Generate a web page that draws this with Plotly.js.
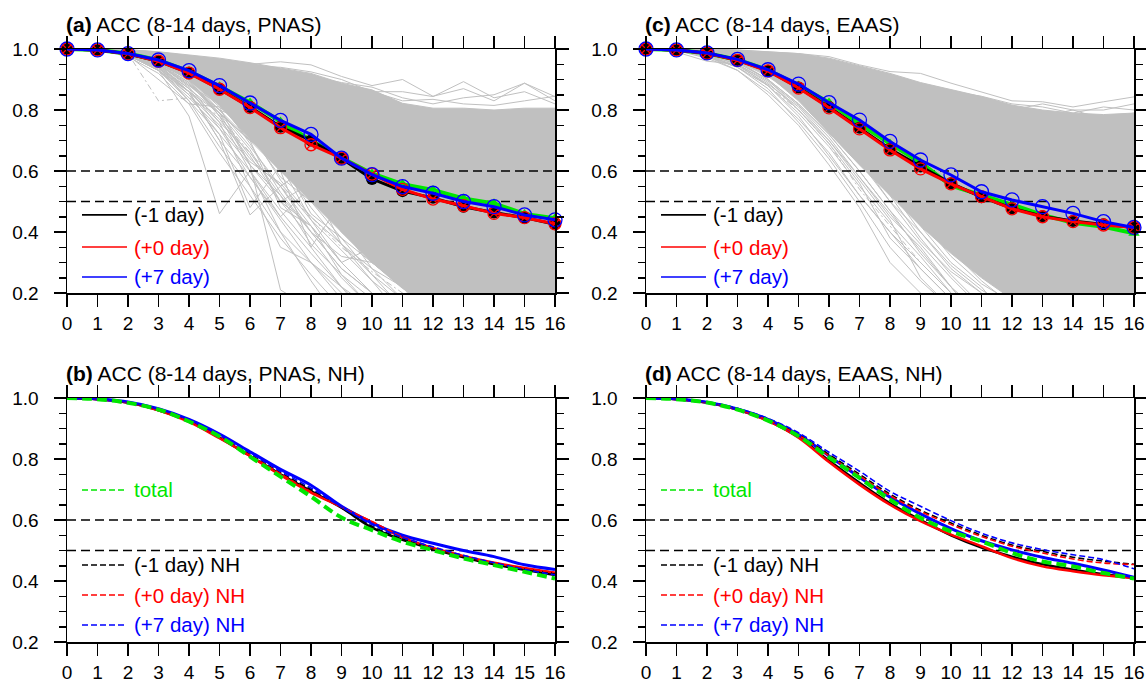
<!DOCTYPE html>
<html><head><meta charset="utf-8">
<script src="https://cdn.plot.ly/plotly-3.0.1.min.js"></script>
<style>html,body{margin:0;padding:0;background:#fff}#chart{width:1146px;height:685px}</style>
</head><body><div id="chart"></div>
<script>
// ---------------- data ----------------
const days = [0,1,2,3,4,5,6,7,8,9,10,11,12,13,14,15,16];
const thresholds = [0.6, 0.5];

// (a) PNAS, 8-14 days
const pnasM1    = [1,0.997,0.984,0.960,0.922,0.869,0.810,0.745,0.700,0.641,0.574,0.534,0.512,0.483,0.464,0.447,0.425];
const pnasP0    = [1,0.997,0.984,0.960,0.921,0.868,0.808,0.742,0.686,0.642,0.590,0.540,0.508,0.486,0.461,0.447,0.427];
const pnasP7    = [1,0.997,0.985,0.964,0.929,0.880,0.823,0.766,0.720,0.642,0.588,0.549,0.527,0.500,0.483,0.456,0.440];
const pnasTotal = [1,0.997,0.985,0.963,0.927,0.878,0.825,0.762,0.700,0.643,0.592,0.557,0.538,0.510,0.494,0.459,0.445];
const pnasBandUpper = [1,1,0.998,0.991,0.980,0.970,0.955,0.937,0.920,0.888,0.866,0.822,0.806,0.806,0.800,0.806,0.806];
const pnasBandLower = [1,0.995,0.980,0.952,0.900,0.815,0.705,0.600,0.500,0.400,0.300,0.215,0.150,0.10,0.10,0.10,0.10];
const pnasMembers = [
  [1,1,0.998,0.990,0.978,0.965,0.950,0.958,0.948,0.910,0.880,0.900,0.845,0.870,0.830,0.888,0.844],
  [1,1,0.997,0.988,0.975,0.960,0.945,0.940,0.925,0.900,0.860,0.860,0.844,0.893,0.840,0.860,0.820],
  [1,1,0.997,0.987,0.972,0.955,0.940,0.930,0.910,0.890,0.875,0.840,0.820,0.840,0.850,0.888,0.830],
  [1,1,0.996,0.985,0.970,0.950,0.930,0.915,0.895,0.870,0.860,0.830,0.835,0.820,0.815,0.830,0.845],
  [1,0.997,0.980,0.930,0.780,0.460,0.600,0.400,0.300,0.220,0.150,0.10,0.10,0.10,0.10,0.10,0.10],
  [1,0.998,0.985,0.950,0.860,0.700,0.456,0.550,0.400,0.280,0.200,0.10,0.10,0.10,0.10,0.10,0.10],
  [1,0.998,0.990,0.950,0.880,0.820,0.710,0.600,0.530,0.450,0.380,0.300,0.250,0.200,0.150,0.120,0.10],
  [1,0.997,0.985,0.930,0.830,0.720,0.600,0.450,0.550,0.400,0.300,0.220,0.150,0.10,0.10,0.10,0.10],
  [1,0.998,0.980,0.900,0.820,0.810,0.620,0.500,0.380,0.250,0.150,0.10,0.10,0.10,0.10,0.10,0.10],
  [1,0.997,0.990,0.960,0.900,0.780,0.650,0.500,0.420,0.300,0.350,0.250,0.180,0.10,0.10,0.10,0.10],
  [1,0.999,0.990,0.970,0.930,0.860,0.750,0.620,0.520,0.450,0.400,0.350,0.280,0.300,0.250,0.220,0.200],
  [1,0.999,0.990,0.975,0.950,0.900,0.840,0.760,0.600,0.520,0.450,0.400,0.420,0.350,0.300,0.280,0.250],
  [1,0.998,0.990,0.970,0.930,0.880,0.800,0.720,0.620,0.520,0.400,0.320,0.280,0.300,0.220,0.180,0.200],
  [1,0.999,0.990,0.970,0.940,0.890,0.830,0.770,0.700,0.620,0.550,0.450,0.380,0.300,0.330,0.250,0.220],
  [1,0.996,0.980,0.940,0.870,0.790,0.700,0.630,0.580,0.480,0.440,0.380,0.330,0.280,0.220,0.180,0.150],
  [1,0.997,0.980,0.930,0.840,0.740,0.620,0.210,0.150,0.10,0.10,0.10,0.10,0.10,0.10,0.10,0.10],
  [1,0.998,0.985,0.950,0.880,0.800,0.760,0.660,0.570,0.460,0.380,0.330,0.290,0.260,0.240,0.220,0.200],
  [1,0.998,0.990,0.960,0.910,0.840,0.740,0.620,0.480,0.360,0.260,0.180,0.10,0.10,0.10,0.10,0.10],
  [1,0.998,0.985,0.950,0.890,0.800,0.680,0.550,0.420,0.300,0.200,0.10,0.10,0.10,0.10,0.10,0.10],
  [1,0.997,0.980,0.940,0.860,0.760,0.660,0.520,0.360,0.260,0.180,0.10,0.10,0.10,0.10,0.10,0.10],
  [1,0.998,0.990,0.960,0.920,0.850,0.720,0.580,0.500,0.380,0.300,0.240,0.200,0.150,0.10,0.10,0.10],
  [1,0.999,0.990,0.965,0.925,0.860,0.780,0.660,0.530,0.440,0.340,0.270,0.220,0.180,0.10,0.10,0.10],
  [1,0.997,0.985,0.945,0.870,0.740,0.580,0.450,0.330,0.220,0.120,0.10,0.10,0.10,0.10,0.10,0.10],
  [1,0.998,0.985,0.950,0.885,0.790,0.620,0.520,0.400,0.280,0.200,0.10,0.10,0.10,0.10,0.10,0.10],
  [1,0.999,0.990,0.960,0.900,0.820,0.700,0.640,0.460,0.380,0.260,0.150,0.10,0.10,0.10,0.10,0.10],
  [1,0.998,0.990,0.970,0.930,0.870,0.790,0.700,0.580,0.400,0.320,0.250,0.220,0.200,0.160,0.10,0.10],
  [1,0.997,0.980,0.930,0.850,0.750,0.630,0.560,0.440,0.340,0.240,0.160,0.10,0.10,0.10,0.10,0.10],
  [1,0.999,0.990,0.970,0.920,0.840,0.760,0.600,0.520,0.440,0.360,0.300,0.260,0.240,0.220,0.180,0.160],
  [1,0.998,0.990,0.960,0.900,0.810,0.730,0.680,0.550,0.470,0.390,0.330,0.270,0.250,0.210,0.190,0.170],
  [1,0.999,0.993,0.975,0.945,0.900,0.850,0.790,0.720,0.660,0.600,0.520,0.460,0.400,0.350,0.300,0.280],
  [1,0.999,0.994,0.980,0.955,0.915,0.870,0.820,0.770,0.710,0.650,0.600,0.560,0.500,0.440,0.400,0.360],
  [1,0.997,0.975,0.920,0.820,0.660,0.520,0.380,0.260,0.150,0.10,0.10,0.10,0.10,0.10,0.10,0.10],
  [1,0.998,0.985,0.940,0.850,0.720,0.480,0.620,0.440,0.300,0.200,0.10,0.10,0.10,0.10,0.10,0.10],
  [1,0.998,0.990,0.955,0.890,0.780,0.600,0.470,0.350,0.500,0.320,0.220,0.10,0.10,0.10,0.10,0.10],
  [1,0.997,0.982,0.935,0.860,0.770,0.640,0.550,0.620,0.420,0.280,0.180,0.10,0.10,0.10,0.10,0.10],
  [1,0.998,0.988,0.950,0.875,0.760,0.550,0.400,0.240,0.10,0.10,0.10,0.10,0.10,0.10,0.10,0.10],
  [1,0.999,0.990,0.960,0.895,0.790,0.670,0.500,0.560,0.360,0.240,0.120,0.10,0.10,0.10,0.10,0.10],
  [1,0.998,0.985,0.945,0.860,0.700,0.580,0.440,0.300,0.180,0.10,0.10,0.10,0.10,0.10,0.10,0.10],
  [1,0.999,0.990,0.965,0.910,0.830,0.690,0.530,0.400,0.320,0.300,0.220,0.120,0.10,0.10,0.10,0.10],
  [1,0.998,0.985,0.940,0.830,0.680,0.550,0.350,0.300,0.200,0.10,0.10,0.10,0.10,0.10,0.10,0.10],
  [1,0.999,0.992,0.970,0.930,0.850,0.730,0.570,0.450,0.360,0.280,0.220,0.170,0.10,0.10,0.10,0.10],
  [1,0.998,0.988,0.955,0.900,0.800,0.700,0.480,0.420,0.260,0.150,0.10,0.10,0.10,0.10,0.10,0.10],
  [1,0.997,0.980,0.930,0.860,0.790,0.700,0.600,0.350,0.220,0.10,0.10,0.10,0.10,0.10,0.10,0.10]
];
const pnasDashedMember = [1,0.998,0.985,0.830,0.840,0.780,0.660,0.550,0.450,0.350,0.270,0.200,0.150,0.10,0.10,0.10,0.10];

// (c) EAAS, 8-14 days
const eaasM1    = [1,0.997,0.986,0.964,0.929,0.874,0.810,0.742,0.672,0.615,0.560,0.514,0.478,0.452,0.436,0.425,0.415];
const eaasP0    = [1,0.997,0.986,0.963,0.928,0.872,0.807,0.738,0.669,0.607,0.558,0.516,0.476,0.450,0.434,0.423,0.415];
const eaasP7    = [1,0.997,0.987,0.966,0.932,0.885,0.824,0.767,0.697,0.636,0.587,0.532,0.505,0.483,0.461,0.434,0.415];
const eaasTotal = [1,0.997,0.986,0.965,0.931,0.880,0.825,0.755,0.690,0.628,0.552,0.522,0.490,0.456,0.430,0.417,0.396];
const eaasBandUpper = [1,1,0.999,0.996,0.990,0.985,0.970,0.945,0.920,0.890,0.866,0.844,0.816,0.800,0.790,0.785,0.790];
const eaasBandLower = [1,0.996,0.985,0.960,0.915,0.830,0.725,0.620,0.520,0.420,0.330,0.250,0.180,0.10,0.10,0.10,0.10];
const eaasMembers = [
  [1,1,1,0.997,0.992,0.985,0.975,0.948,0.926,0.920,0.888,0.860,0.830,0.827,0.810,0.827,0.843],
  [1,1,0.998,0.990,0.985,0.970,0.950,0.920,0.890,0.880,0.850,0.830,0.800,0.820,0.800,0.800,0.820],
  [1,1,0.997,0.990,0.980,0.960,0.940,0.910,0.870,0.850,0.830,0.800,0.790,0.780,0.800,0.770,0.790],
  [1,1,0.998,0.993,0.985,0.975,0.955,0.930,0.900,0.870,0.860,0.845,0.820,0.810,0.790,0.810,0.800],
  [1,0.990,0.960,0.950,0.880,0.780,0.650,0.520,0.400,0.280,0.180,0.10,0.10,0.10,0.10,0.10,0.10],
  [1,0.995,0.970,0.930,0.850,0.750,0.620,0.480,0.300,0.200,0.10,0.10,0.10,0.10,0.10,0.10,0.10],
  [1,0.998,0.985,0.960,0.900,0.800,0.700,0.580,0.450,0.350,0.220,0.10,0.10,0.10,0.10,0.10,0.10],
  [1,0.998,0.990,0.970,0.930,0.870,0.780,0.660,0.550,0.420,0.300,0.220,0.10,0.10,0.10,0.10,0.10],
  [1,0.999,0.990,0.980,0.950,0.900,0.850,0.780,0.700,0.600,0.500,0.400,0.350,0.300,0.250,0.220,0.180],
  [1,0.999,0.995,0.980,0.960,0.920,0.870,0.800,0.740,0.680,0.600,0.550,0.480,0.400,0.330,0.300,0.270],
  [1,0.998,0.990,0.970,0.930,0.870,0.790,0.710,0.620,0.550,0.480,0.400,0.320,0.280,0.250,0.220,0.200],
  [1,0.998,0.990,0.970,0.940,0.890,0.820,0.740,0.640,0.520,0.420,0.340,0.300,0.260,0.220,0.200,0.180],
  [1,0.997,0.980,0.940,0.870,0.760,0.640,0.500,0.350,0.240,0.150,0.10,0.10,0.10,0.10,0.10,0.10],
  [1,0.999,0.993,0.975,0.945,0.900,0.840,0.760,0.660,0.560,0.460,0.380,0.310,0.270,0.240,0.230,0.210],
  [1,0.998,0.990,0.965,0.920,0.850,0.760,0.640,0.520,0.380,0.260,0.160,0.10,0.10,0.10,0.10,0.10],
  [1,0.999,0.992,0.970,0.935,0.880,0.800,0.700,0.580,0.460,0.340,0.240,0.160,0.10,0.10,0.10,0.10],
  [1,0.997,0.985,0.955,0.900,0.820,0.720,0.600,0.470,0.330,0.220,0.130,0.10,0.10,0.10,0.10,0.10],
  [1,0.998,0.988,0.965,0.925,0.860,0.780,0.680,0.560,0.440,0.320,0.230,0.170,0.10,0.10,0.10,0.10],
  [1,0.999,0.994,0.978,0.950,0.905,0.845,0.770,0.680,0.580,0.470,0.380,0.300,0.240,0.200,0.180,0.150],
  [1,0.998,0.990,0.968,0.930,0.870,0.790,0.690,0.600,0.500,0.400,0.320,0.260,0.220,0.180,0.150,0.120],
  [1,0.999,0.995,0.982,0.958,0.920,0.870,0.810,0.740,0.660,0.580,0.520,0.460,0.420,0.380,0.340,0.300],
  [1,0.997,0.986,0.960,0.910,0.840,0.750,0.640,0.500,0.400,0.280,0.200,0.10,0.10,0.10,0.10,0.10],
  [1,0.999,0.995,0.985,0.965,0.930,0.885,0.830,0.770,0.700,0.630,0.560,0.500,0.450,0.400,0.360,0.330],
  [1,0.996,0.975,0.940,0.880,0.790,0.680,0.550,0.430,0.320,0.200,0.10,0.10,0.10,0.10,0.10,0.10],
  [1,0.998,0.985,0.955,0.900,0.820,0.720,0.600,0.470,0.360,0.250,0.150,0.10,0.10,0.10,0.10,0.10],
  [1,0.997,0.980,0.950,0.890,0.800,0.690,0.560,0.380,0.280,0.180,0.10,0.10,0.10,0.10,0.10,0.10],
  [1,0.998,0.990,0.965,0.920,0.850,0.750,0.630,0.500,0.370,0.270,0.200,0.10,0.10,0.10,0.10,0.10],
  [1,0.996,0.978,0.945,0.885,0.810,0.700,0.570,0.440,0.250,0.150,0.10,0.10,0.10,0.10,0.10,0.10],
  [1,0.999,0.990,0.970,0.930,0.870,0.780,0.670,0.540,0.400,0.290,0.210,0.150,0.10,0.10,0.10,0.10],
  [1,0.997,0.983,0.950,0.895,0.815,0.710,0.580,0.460,0.340,0.220,0.10,0.10,0.10,0.10,0.10,0.10],
  [1,0.996,0.976,0.930,0.860,0.770,0.660,0.520,0.400,0.300,0.200,0.10,0.10,0.10,0.10,0.10,0.10]
];
const eaasDashedMember = [1,0.997,0.975,0.940,0.880,0.800,0.690,0.540,0.420,0.300,0.200,0.10,0.10,0.10,0.10,0.10,0.10];

// (b) PNAS, NH
const pnasNhM1Solid = [1,0.996,0.985,0.960,0.925,0.870,0.810,0.750,0.695,0.640,0.575,0.535,0.505,0.478,0.455,0.437,0.420];
const pnasNhP0Solid = [1,0.996,0.985,0.960,0.922,0.868,0.810,0.747,0.690,0.643,0.592,0.543,0.508,0.482,0.460,0.443,0.427];
const pnasNhP7Solid = [1,0.997,0.987,0.965,0.930,0.882,0.824,0.766,0.714,0.645,0.590,0.550,0.524,0.500,0.480,0.453,0.438];
const pnasNhM1 = [1,0.996,0.985,0.962,0.925,0.873,0.815,0.755,0.700,0.640,0.580,0.538,0.508,0.480,0.458,0.440,0.425];
const pnasNhP0 = [1,0.996,0.985,0.962,0.924,0.872,0.812,0.752,0.693,0.642,0.595,0.545,0.510,0.483,0.460,0.442,0.428];
const pnasNhP7 = [1,0.997,0.986,0.964,0.928,0.878,0.820,0.760,0.705,0.642,0.585,0.543,0.512,0.484,0.460,0.438,0.420];
const pnasNhTotal = [1,0.996,0.984,0.962,0.923,0.874,0.808,0.742,0.677,0.608,0.567,0.529,0.501,0.474,0.452,0.430,0.408];

// (d) EAAS, NH
const eaasNhM1Solid = [1,0.996,0.985,0.962,0.926,0.872,0.795,0.722,0.655,0.600,0.550,0.510,0.480,0.455,0.437,0.422,0.410];
const eaasNhP0Solid = [1,0.996,0.985,0.962,0.925,0.870,0.790,0.716,0.650,0.596,0.552,0.514,0.475,0.448,0.432,0.419,0.410];
const eaasNhP7Solid = [1,0.997,0.986,0.964,0.930,0.880,0.810,0.740,0.675,0.620,0.572,0.532,0.502,0.478,0.458,0.436,0.412];
const eaasNhM1 = [1,0.997,0.986,0.964,0.930,0.880,0.815,0.750,0.685,0.632,0.590,0.550,0.518,0.497,0.478,0.465,0.455];
const eaasNhP0 = [1,0.997,0.986,0.963,0.928,0.878,0.810,0.745,0.680,0.628,0.585,0.546,0.514,0.492,0.472,0.459,0.454];
const eaasNhP7 = [1,0.997,0.987,0.966,0.933,0.886,0.822,0.760,0.694,0.645,0.598,0.557,0.525,0.503,0.486,0.470,0.440];
const eaasNhTotal = [1,0.996,0.985,0.962,0.926,0.875,0.805,0.738,0.667,0.607,0.563,0.530,0.492,0.464,0.448,0.426,0.408];

const panelTitles = [
  ['(a)', ' ACC (8-14 days, PNAS)'],
  ['(c)', ' ACC (8-14 days, EAAS)'],
  ['(b)', ' ACC (8-14 days, PNAS, NH)'],
  ['(d)', ' ACC (8-14 days, EAAS, NH)']
];
const legendLabelsTop = ['(-1 day)', '(+0 day)', '(+7 day)'];
const legendLabelsBottom = ['total', '(-1 day) NH', '(+0 day) NH', '(+7 day) NH'];

// ---------------- style ----------------
const FONT = 'Liberation Sans, Arial, Helvetica, sans-serif';
const GRAY = 'rgb(192,192,192)';
const GREEN = 'rgb(0,230,0)';
const BLACK = '#000';
const RED = 'rgb(255,0,0)';
const BLUE = 'rgb(0,0,255)';

const traces = [];
function ax(n){ return n===1 ? ['x','y'] : ['x'+n,'y'+n]; }

function grayPanel(n, upper, lower, members, dashedMember){
  const [xa, ya] = ax(n);
  traces.push({x:days, y:upper, xaxis:xa, yaxis:ya, mode:'lines', line:{color:GRAY,width:1}, hoverinfo:'skip', showlegend:false});
  traces.push({x:days, y:lower, xaxis:xa, yaxis:ya, mode:'lines', line:{color:GRAY,width:1}, fill:'tonexty', fillcolor:GRAY, hoverinfo:'skip', showlegend:false});
  members.forEach(m => traces.push({x:days, y:m, xaxis:xa, yaxis:ya, mode:'lines', line:{color:GRAY,width:1}, hoverinfo:'skip', showlegend:false}));
  traces.push({x:days, y:dashedMember, xaxis:xa, yaxis:ya, mode:'lines', line:{color:GRAY,width:1,dash:'6px,3px,2px,3px'}, hoverinfo:'skip', showlegend:false});
}
function threshLines(n){
  const [xa, ya] = ax(n);
  thresholds.forEach(t => traces.push({x:[days[0], days[days.length-1]], y:[t,t], xaxis:xa, yaxis:ya, mode:'lines',
    line:{color:BLACK,width:1.5,dash:'9px,5px'}, hoverinfo:'skip', showlegend:false}));
}
function meanPanel(n, total, m1, p0, p7){
  const [xa, ya] = ax(n);
  const base = {x:days, xaxis:xa, yaxis:ya, mode:'lines+markers', cliponaxis:false, showlegend:false};
  traces.push(Object.assign({}, base, {y:total, line:{color:GREEN,width:4}, marker:{symbol:'triangle-up', size:10, color:GREEN}}));
  traces.push(Object.assign({}, base, {y:m1, line:{color:BLACK,width:3}, marker:{symbol:'circle', size:12, color:BLACK}}));
  traces.push(Object.assign({}, base, {y:p0, line:{color:RED,width:3}, marker:{symbol:'circle-x-open', size:12, color:RED, line:{width:1.3}}}));
  traces.push(Object.assign({}, base, {y:p7, line:{color:BLUE,width:3}, marker:{symbol:'circle-open', size:14, color:BLUE, line:{width:1.3}}}));
}
function nhPanel(n, sM1, sP0, sP7, dM1, dP0, dP7, total){
  const [xa, ya] = ax(n);
  const base = {x:days, xaxis:xa, yaxis:ya, mode:'lines', showlegend:false, hoverinfo:'skip'};
  const sp = {shape:'spline', smoothing:1};
  traces.push(Object.assign({}, base, {y:sM1, line:Object.assign({color:BLACK,width:2.5},sp)}));
  traces.push(Object.assign({}, base, {y:sP0, line:Object.assign({color:RED,width:2.5},sp)}));
  traces.push(Object.assign({}, base, {y:sP7, line:Object.assign({color:BLUE,width:3},sp)}));
  traces.push(Object.assign({}, base, {y:dM1, line:Object.assign({color:BLACK,width:1.6,dash:'6px,3px'},sp)}));
  traces.push(Object.assign({}, base, {y:dP0, line:Object.assign({color:RED,width:1.6,dash:'6px,3px'},sp)}));
  traces.push(Object.assign({}, base, {y:dP7, line:Object.assign({color:BLUE,width:1.6,dash:'6px,3px'},sp)}));
  traces.push(Object.assign({}, base, {y:total, line:Object.assign({color:GREEN,width:4,dash:'10px,5px'},sp)}));
}

grayPanel(1, pnasBandUpper, pnasBandLower, pnasMembers, pnasDashedMember);
threshLines(1);
meanPanel(1, pnasTotal, pnasM1, pnasP0, pnasP7);

grayPanel(2, eaasBandUpper, eaasBandLower, eaasMembers, eaasDashedMember);
threshLines(2);
meanPanel(2, eaasTotal, eaasM1, eaasP0, eaasP7);

threshLines(3);
nhPanel(3, pnasNhM1Solid, pnasNhP0Solid, pnasNhP7Solid, pnasNhM1, pnasNhP0, pnasNhP7, pnasNhTotal);
threshLines(4);
nhPanel(4, eaasNhM1Solid, eaasNhP0Solid, eaasNhP7Solid, eaasNhM1, eaasNhP0, eaasNhP7, eaasNhTotal);

// ---------------- layout ----------------
const W = 1146, H = 685;
const xDomL = [67/W, 555/W], xDomR = [646/W, 1134/W];
const yDomT = [1-293/H, 1-49/H], yDomB = [1-642/H, 1-398/H];

function xAxis(domain, anchor){
  return {domain, anchor, range:[days[0], days[days.length-1]], tickmode:'array', tickvals:days, ticktext:days.map(String),
    showline:true, mirror:'allticks', linecolor:BLACK, linewidth:1.5, ticks:'outside', ticklen:12, tickwidth:1.5, tickcolor:BLACK,
    showgrid:false, zeroline:false, ticklabelstandoff:1, tickfont:{family:FONT,size:19,color:BLACK}, fixedrange:true};
}
function yAxis(domain, anchor){
  return {domain, anchor, range:[0.2,1.0], tickmode:'linear', tick0:0.2, dtick:0.2, tickformat:'.1f',
    showline:true, mirror:'allticks', linecolor:BLACK, linewidth:1.5, ticks:'outside', ticklen:12, tickwidth:1.5, tickcolor:BLACK,
    minor:{dtick:0.05, tick0:0.2, ticks:'outside', ticklen:7, tickwidth:1.5, tickcolor:BLACK, showgrid:false},
    showgrid:false, zeroline:false, ticklabelstandoff:11, tickfont:{family:FONT,size:19,color:BLACK}, fixedrange:true};
}

const layout = {
  width:W, height:H, margin:{l:0,r:0,t:0,b:0}, paper_bgcolor:'#fff', plot_bgcolor:'rgba(0,0,0,0)',
  showlegend:false, font:{family:FONT, color:BLACK},
  xaxis: xAxis(xDomL,'y'),  yaxis: yAxis(yDomT,'x'),
  xaxis2: xAxis(xDomR,'y2'), yaxis2: yAxis(yDomT,'x2'),
  xaxis3: xAxis(xDomL,'y3'), yaxis3: yAxis(yDomB,'x3'),
  xaxis4: xAxis(xDomR,'y4'), yaxis4: yAxis(yDomB,'x4'),
  annotations: [], shapes: []
};

// panel titles
const titlePos = [[64/W, 1-25/H], [643/W, 1-25/H], [64/W, 1-374/H], [643/W, 1-374/H]];
panelTitles.forEach((t,i) => layout.annotations.push({xref:'paper', yref:'paper', x:titlePos[i][0], y:titlePos[i][1],
  xanchor:'left', yanchor:'middle', showarrow:false, text:'<b>'+t[0]+'</b>'+t[1], font:{family:FONT,size:21,color:BLACK}}));

// in-plot legends
const legX0 = 15/488, legX1 = 60/488, legTX = 65/488;
function legendItem(n, yFrac, label, color, dash, width){
  const xr = (n===1?'x':'x'+n)+' domain', yr = (n===1?'y':'y'+n)+' domain';
  layout.shapes.push({type:'line', xref:xr, yref:yr, x0:legX0, x1:legX1, y0:yFrac, y1:yFrac, line:{color, width, dash}});
  layout.annotations.push({xref:xr, yref:yr, x:legTX, y:yFrac, xanchor:'left', yanchor:'middle', showarrow:false,
    text:label, font:{family:FONT,size:20.5,color}});
}
const topLegY = [0.32, 0.1885, 0.0656];
const topLegC = [BLACK, RED, BLUE];
[1,2].forEach(n => legendLabelsTop.forEach((lab,i) => legendItem(n, topLegY[i], lab, topLegC[i], 'solid', 1.6)));
const botLegY = [0.623, 0.3156, 0.1926, 0.0697];
const botLegC = [GREEN, BLACK, RED, BLUE];
[3,4].forEach(n => legendLabelsBottom.forEach((lab,i) => legendItem(n, botLegY[i], lab, botLegC[i], '6px,3px', 1.6)));

Plotly.newPlot('chart', traces, layout, {displayModeBar:false, staticPlot:true});
</script></body></html>
